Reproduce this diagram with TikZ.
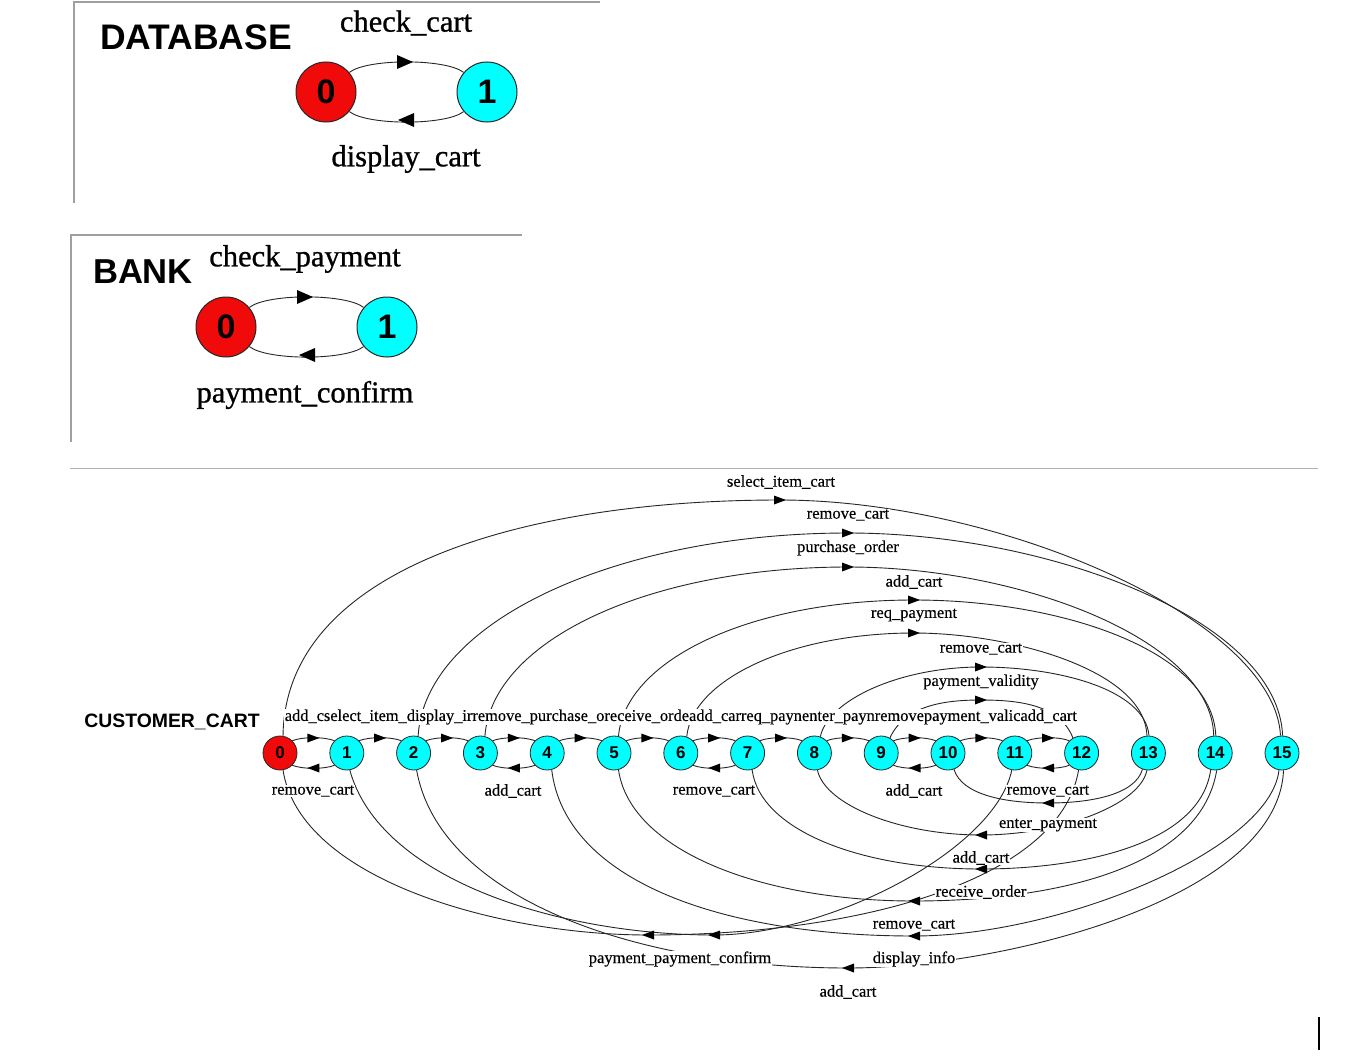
\documentclass[tikz,border=0pt]{standalone}
\usepackage{fontspec}
\setmainfont{Liberation Serif}
\newfontfamily\hsans{Liberation Sans}
\newfontfamily\lblfont{Liberation Serif}[FakeBold=0.35]
\newfontfamily\biglblfont{Liberation Serif}[FakeBold=0.9]
\usepackage{graphicx}
\definecolor{cy}{RGB}{0,255,255}
\definecolor{rd}{RGB}{240,10,10}
\begin{document}
\begin{tikzpicture}[x=1pt,y=-1pt]
\tikzset{
  st/.style={circle, draw=black!85, line width=0.8pt, fill=cy, minimum size=34pt, inner sep=0pt,
    font=\hsans\bfseries\fontsize{17}{17}\selectfont},
  stred/.style={st, fill=rd},
  bigst/.style={circle, draw=black!85, line width=1pt, fill=cy, minimum size=60pt, inner sep=0pt,
    font=\hsans\bfseries\fontsize{34}{34}\selectfont},
  bigred/.style={bigst, fill=rd},
  edge/.style={draw=black!85, line width=0.9pt},
  lbl/.style={fill=white, inner sep=0.6pt, font=\lblfont\fontsize{16.5}{17}\selectfont},
  biglbl/.style={inner sep=0pt, font=\biglblfont\fontsize{30.5}{32}\selectfont},
  title/.style={inner sep=0pt, font=\hsans\bfseries\fontsize{35.5}{36}\selectfont},
  frame/.style={draw=gray!75, line width=1.6pt},
  rtip/.pic={\fill[black] (6,0) -- (-6,-4.5) -- (-6,4.5) -- cycle;},
  ltip/.pic={\fill[black] (-6,0) -- (6,-4.5) -- (6,4.5) -- cycle;},
  brtip/.pic={\fill[black] (8,0) -- (-8,-7) -- (-8,7) -- cycle;},
  bltip/.pic={\fill[black] (-8,0) -- (8,-7) -- (8,7) -- cycle;},
}
\useasboundingbox (0,0) rectangle (1360,1057);
\fill[white] (0,0) rectangle (1360,1057);

% ---------- frames ----------
\draw[frame] (600,2) -- (74,2) -- (74,203);
\draw[frame] (522,235) -- (71,235) -- (71,442);
\draw[draw=gray!60, line width=1pt] (70,468) -- (1318,468);
\draw[black, line width=2pt] (1319,1017) -- (1319,1050);

% ---------- DATABASE ----------
\node[title] (dbt) at (196,37) {DATABASE};
\node[bigred] (d0) at (326,92) {0};
\node[bigst] (d1) at (487,92) {1};
\draw[edge] (d0.40) .. controls +(18,-14) and +(-18,-14) .. (d1.140);
\draw[edge] (d1.-140) .. controls +(-18,14) and +(18,14) .. (d0.-40);
\pic at (405,62) {brtip};
\pic at (406,120) {bltip};
\node[biglbl] (dbl1) at (406,23) {check\_cart};
\node[biglbl] (dbl2) at (406,159) {display\_cart};

% ---------- BANK ----------
\node[title, font=\hsans\bfseries\fontsize{34.6}{35}\selectfont] (bkt) at (143,272) {BANK};
\node[bigred] (b0) at (226,327) {0};
\node[bigst] (b1) at (387,327) {1};
\draw[edge] (b0.40) .. controls +(18,-14) and +(-18,-14) .. (b1.140);
\draw[edge] (b1.-140) .. controls +(-18,14) and +(18,14) .. (b0.-40);
\pic at (305,297) {brtip};
\pic at (307,355) {bltip};
\node[biglbl] (bkl1) at (305,259) {check\_payment};
\node[biglbl] (bkl2) at (305,395) {payment\_confirm};

% ---------- CUSTOMER_CART ----------
\node[inner sep=0pt, font=\hsans\bfseries\fontsize{19.4}{20}\selectfont] (cct) at (172,722) {CUSTOMER\_CART};
\node[stred] (n0) at (280,753) {0};
\foreach \i in {1,...,15} \node[st] (n\i) at ({280+66.8*\i},753) {\i};

% short forward edges
\foreach \i/\j in {0/1,1/2,2/3,3/4,4/5,5/6,6/7,7/8,8/9,9/10,10/11,11/12}{
  \draw[edge] (n\i.45) .. controls +(10,-4) and +(-10,-4) .. (n\j.135);
  \pic at ({280+66.8*\i+33.4},738) {rtip};
}
% short back edges
\foreach \i/\j in {1/0,4/3,7/6,10/9,12/11}{
  \draw[edge] (n\i.225) .. controls +(-10,4) and +(10,4) .. (n\j.-45);
  \pic at ({280+66.8*\j+33.4},768) {ltip};
}

% upper long arcs
\coordinate (u1) at (780,500);
\coordinate (u2) at (848,533);
\coordinate (u3) at (848,567);
\coordinate (u4) at (914,600);
\coordinate (u5) at (914,633);
\coordinate (u6) at (981,667);
\coordinate (u7) at (981,700);
\draw[edge] (n0.80) .. controls (285,570) and (520,500) .. (u1) .. controls (1000,500) and (1275,620) .. (n15.95);
\draw[edge] (n2.75) .. controls (425,620) and (620,533) .. (u2) .. controls (1050,533) and (1278,620) .. (n15.88);
\draw[edge] (n3.75) .. controls (492,640) and (650,567) .. (u3) .. controls (1020,567) and (1212,640) .. (n14.95);
\draw[edge] (n5.75) .. controls (625,660) and (750,600) .. (u4) .. controls (1060,600) and (1212,650) .. (n14.88);
\draw[edge] (n6.70) .. controls (692,680) and (790,633) .. (u5) .. controls (1010,633) and (1145,670) .. (n13.95);
\draw[edge] (n8.70) .. controls (828,700) and (900,667) .. (u6) .. controls (1060,667) and (1145,690) .. (n13.88);
\draw[edge] (n9.60) .. controls (905,705) and (945,700) .. (u7) .. controls (1020,700) and (1060,705) .. (n12.120);
\foreach \c in {u1,u2,u3,u4,u5,u6,u7} \pic at (\c) {rtip};

% lower long arcs
\coordinate (l1) at (1048,803);
\coordinate (l2) at (981,835);
\coordinate (l3) at (981,869);
\coordinate (l4) at (914,901);
\coordinate (l5) at (914,936);
\coordinate (l6) at (848,968);
\coordinate (l7) at (714,935);
\coordinate (l8) at (648,935);
\draw[edge] (n13.250) .. controls (1135,795) and (1090,803) .. (l1) .. controls (1005,803) and (962,795) .. (n10.-70);
\draw[edge] (n13.265) .. controls (1140,805) and (1060,835) .. (l2) .. controls (900,835) and (825,805) .. (n8.-80);
\draw[edge] (n14.255) .. controls (1200,845) and (1080,869) .. (l3) .. controls (860,869) and (760,830) .. (n7.-75);
\draw[edge] (n14.275) .. controls (1200,870) and (1050,901) .. (l4) .. controls (760,901) and (630,850) .. (n5.-75);
\draw[edge] (n15.260) .. controls (1270,850) and (1060,936) .. (l5) .. controls (720,936) and (565,880) .. (n4.-75);
\draw[edge] (n15.275) .. controls (1278,900) and (1000,968) .. (l6) .. controls (640,968) and (440,900) .. (n2.-80);
\draw[edge] (n11.-100) .. controls (995,850) and (830,935) .. (l7) .. controls (560,935) and (380,880) .. (n1.-80);
\draw[edge] (n12.-100) .. controls (1060,880) and (860,935) .. (l8) .. controls (500,935) and (300,880) .. (n0.-80);
\foreach \c in {l1,l2,l3,l4,l5,l6,l7,l8} \pic at (\c) {ltip};

% labels (opaque, drawn over the edges)
\node[lbl, anchor=west] (row) at (284,717) {\resizebox{792pt}{\height}{add\_cselect\_item\_display\_irremove\_purchase\_oreceive\_ordeadd\_carreq\_paynenter\_paynremovepayment\_valicadd\_cart}};
\node[lbl] (lu1) at (781,482) {select\_item\_cart};
\node[lbl] (lu2) at (848,515) {remove\_cart};
\node[lbl] (lu3) at (848,548) {purchase\_order};
\node[lbl] (lu4) at (914,582) {add\_cart};
\node[lbl] (lu5) at (914,615) {req\_payment};
\node[lbl] (lu6) at (981,649) {remove\_cart};
\node[lbl] (lu7) at (981,682) {payment\_validity};

\node[lbl] (lb1) at (313,791) {remove\_cart};
\node[lbl] (lb2) at (513,791) {add\_cart};
\node[lbl] (lb3) at (714,791) {remove\_cart};
\node[lbl] (lb4) at (914,791) {add\_cart};
\node[lbl] (lb5) at (1048,791) {remove\_cart};

\node[lbl] (ll1) at (1048,825) {enter\_payment};
\node[lbl] (ll2) at (981,858) {add\_cart};
\node[lbl] (ll3) at (981,892) {receive\_order};
\node[lbl] (ll4) at (914,925) {remove\_cart};
\node[lbl] (ll5) at (914,959) {display\_info};
\node[lbl] (ll6) at (848,992) {add\_cart};
\node[lbl] (ll78) at (680,959) {payment\_payment\_confirm};
\end{tikzpicture}
\end{document}
